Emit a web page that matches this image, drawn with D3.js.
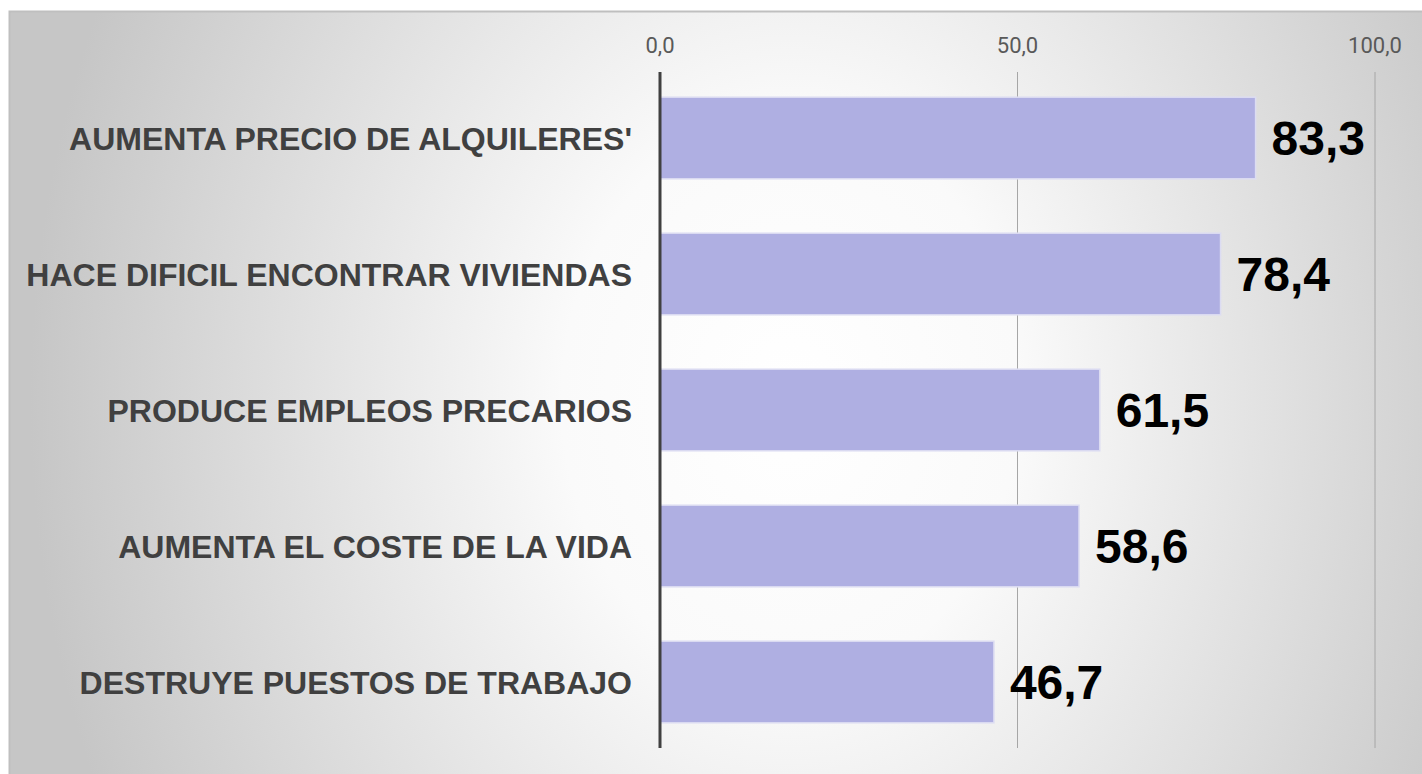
<!DOCTYPE html>
<html>
<head>
<meta charset="utf-8">
<script src="https://cdn.jsdelivr.net/npm/d3@7"></script>
<style>
  body { margin: 0; background: #ffffff; }
  svg { display: block; }
</style>
</head>
<body>
<svg id="canvas"></svg>
<script>
const categories = [
  "AUMENTA PRECIO DE ALQUILERES'",
  "HACE DIFICIL ENCONTRAR VIVIENDAS",
  "PRODUCE EMPLEOS PRECARIOS",
  "AUMENTA EL COSTE DE LA VIDA",
  "DESTRUYE PUESTOS DE TRABAJO",
];
const values = [83.3, 78.4, 61.5, 58.6, 46.7];
const tickValues = [0, 50, 100];

const canvasWidth = 1422;
const canvasHeight = 774;
const plotLeft = 660;
const plotRight = 1375;
const plotTop = 72;
const plotBottom = 748;

const canvas = d3.select("#canvas").attr("width", canvasWidth).attr("height", canvasHeight);

// background: soft elliptical gradient, light in the middle, grey at the sides
const defs = canvas.append("defs");
const grad = defs
  .append("radialGradient")
  .attr("id", "bg")
  .attr("gradientUnits", "userSpaceOnUse")
  .attr("cx", 0)
  .attr("cy", 0)
  .attr("r", 1)
  .attr("gradientTransform", "translate(790,400) scale(760,950)");
grad.append("stop").attr("offset", "0").attr("stop-color", "#ffffff");
grad.append("stop").attr("offset", "0.3").attr("stop-color", "#fafafa");
grad.append("stop").attr("offset", "1").attr("stop-color", "#c6c6c6");

// chart area
canvas
  .append("rect")
  .attr("x", 9)
  .attr("y", 11)
  .attr("width", canvasWidth - 9)
  .attr("height", canvasHeight - 11)
  .attr("fill", "url(#bg)");
canvas
  .append("path")
  .attr("d", `M9.5,${canvasHeight} V11.5 H${canvasWidth}`)
  .attr("fill", "none")
  .attr("stroke", "#bfbfbf")
  .attr("stroke-width", 2);

const x = d3.scaleLinear().domain([0, 100]).range([plotLeft, plotRight]);
const y = d3
  .scaleBand()
  .domain(categories)
  .range([70, 750])
  .paddingInner(0.4)
  .paddingOuter(0.2);

// gridlines
canvas
  .selectAll(".grid")
  .data(tickValues.filter((t) => t > 0))
  .enter()
  .append("line")
  .attr("class", "grid")
  .attr("x1", (d) => x(d))
  .attr("x2", (d) => x(d))
  .attr("y1", plotTop)
  .attr("y2", plotBottom)
  .attr("stroke", "#a6a6a6")
  .attr("stroke-width", 1);

// top axis labels
const fmt = (v) => d3.format(".1f")(v).replace(".", ",");
canvas
  .selectAll(".tick-label")
  .data(tickValues)
  .enter()
  .append("text")
  .attr("class", "tick-label")
  .attr("x", (d) => x(d))
  .attr("y", 53)
  .attr("text-anchor", "middle")
  .style("font-family", "Roboto, 'Liberation Sans', Arial, sans-serif")
  .style("font-size", "22px")
  .attr("fill", "#595959")
  .text((d) => fmt(d));

// bars
canvas
  .selectAll(".bar")
  .data(categories)
  .enter()
  .append("rect")
  .attr("class", "bar")
  .attr("x", x(0))
  .attr("y", (d) => y(d))
  .attr("width", (d, i) => x(values[i]) - x(0))
  .attr("height", y.bandwidth())
  .attr("fill", "#afafe2")
  .attr("stroke", "#dcdcf2")
  .attr("stroke-width", 1.5);

// zero axis
canvas
  .append("line")
  .attr("x1", x(0))
  .attr("x2", x(0))
  .attr("y1", plotTop)
  .attr("y2", plotBottom)
  .attr("stroke", "#404040")
  .attr("stroke-width", 3);

// category labels
canvas
  .selectAll(".cat")
  .data(categories)
  .enter()
  .append("text")
  .attr("class", "cat")
  .attr("x", 632)
  .attr("y", (d) => y(d) + y.bandwidth() / 2)
  .attr("dy", "0.36em")
  .attr("text-anchor", "end")
  .style("font-family", "'Liberation Sans', Arial, sans-serif")
  .style("font-weight", "bold")
  .style("font-size", "32px")
  .attr("fill", "#404040")
  .text((d) => d);

// value labels
canvas
  .selectAll(".val")
  .data(categories)
  .enter()
  .append("text")
  .attr("class", "val")
  .attr("x", (d, i) => x(values[i]) + 16)
  .attr("y", (d) => y(d) + y.bandwidth() / 2)
  .attr("dy", "0.36em")
  .style("font-family", "'Liberation Sans', Arial, sans-serif")
  .style("font-weight", "bold")
  .style("font-size", "48px")
  .attr("fill", "#000000")
  .text((d, i) => fmt(values[i]));
</script>
</body>
</html>
